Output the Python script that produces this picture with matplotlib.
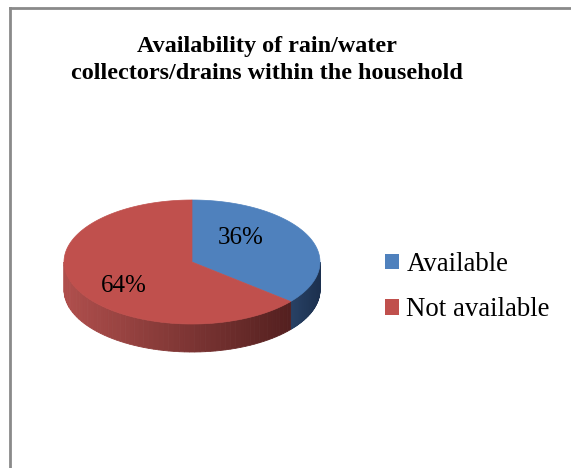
import numpy as np
import matplotlib
matplotlib.use('Agg')
import matplotlib.pyplot as plt
from matplotlib.patches import Polygon, Patch
from matplotlib.lines import Line2D

labels = ['Available', 'Not available']
values = [36, 64]
top_colors = ['#4f81bd', '#c0504d']
side_light = [(0.16, 0.26, 0.40), (0.69, 0.31, 0.30)]
side_dark = [(0.11, 0.19, 0.31), (0.28, 0.10, 0.10)]
title = 'Availability of rain/water\ncollectors/drains within the household'

W, H = 571, 468
fig = plt.figure(figsize=(W / 100, H / 100), dpi=100)
ax = fig.add_axes([0, 0, 1, 1])
ax.set_xlim(0, W)
ax.set_ylim(H, 0)
ax.axis('off')

# chart frame (only left and top edges visible in the crop)
ax.add_line(Line2D([9.5, 9.5], [8, H], color='#8a8a8a', lw=2))
ax.add_line(Line2D([9.5, W], [8, 8], color='#8a8a8a', lw=2))

cx, cy, a, b, depth = 192, 262, 128, 62, 28


def pt(t, dy=0):
    return cx + a * np.cos(t), cy - b * np.sin(t) + dy


# slice angles, clockwise from 12 o'clock
fracs = np.array(values) / sum(values)
starts = np.deg2rad(90 - 360 * np.concatenate([[0], np.cumsum(fracs)[:-1]]))
ends = starts - 2 * np.pi * fracs

# side walls (front half only: angles between pi and 2pi)
for i in range(len(values)):
    t0, t1 = ends[i] % (2 * np.pi), starts[i] % (2 * np.pi)
    if t1 <= t0:
        t1 += 2 * np.pi
    lo, hi = max(t0, np.pi), min(t1, 2 * np.pi)
    if hi <= lo:
        lo, hi = max(t0 - 2 * np.pi, np.pi), min(t1 - 2 * np.pi, 2 * np.pi)
    if hi <= lo:
        continue
    n = 60
    ts = np.linspace(lo, hi, n + 1)
    xmin, xmax = pt(lo)[0], pt(hi)[0]
    for k in range(n):
        tt = np.linspace(ts[k], ts[k + 1], 4)
        xs, ys = pt(tt)
        poly = np.column_stack([np.r_[xs, xs[::-1]], np.r_[ys, ys[::-1] + depth]])
        xm = (xs.mean() - (cx - a)) / (2 * a) if i == 1 else (xs.mean() - xmin) / max(xmax - xmin, 1)
        c = [side_light[i][j] + (side_dark[i][j] - side_light[i][j]) * min(max(xm, 0), 1) for j in range(3)]
        ax.add_patch(Polygon(poly, closed=True, facecolor=c, edgecolor=c, lw=0.6))

# top face
for i in range(len(values)):
    tt = np.linspace(starts[i], ends[i], 200)
    xs, ys = pt(tt)
    poly = np.column_stack([np.r_[cx, xs], np.r_[cy, ys]])
    ax.add_patch(Polygon(poly, closed=True, facecolor=top_colors[i], edgecolor=top_colors[i], lw=0.5))

# percentage labels
for i in range(len(values)):
    mid = (starts[i] + ends[i]) / 2 + np.deg2rad(15)
    x, y = cx - 10 + 0.6 * a * np.cos(mid), cy - 0.6 * b * np.sin(mid)
    ax.text(x, y, '%d%%' % values[i], ha='center', va='center',
            fontsize=18, family='Liberation Serif', color='black')

ax.text(267, 60, title, ha='center', va='center', fontsize=17.4,
        fontweight='bold', family='Liberation Serif', linespacing=1.4)

handles = [Patch(facecolor=c, edgecolor='none') for c in top_colors]
leg = ax.legend(handles, labels, loc='upper left', bbox_to_anchor=(385 / W, 1 - 252 / H),
                frameon=False, prop={'family': 'Liberation Serif', 'size': 19.3},
                handlelength=0.53, handleheight=0.53, handletextpad=0.27,
                labelspacing=0.75, borderpad=0, borderaxespad=0)

fig.savefig('out.png', dpi=100, facecolor='white')
